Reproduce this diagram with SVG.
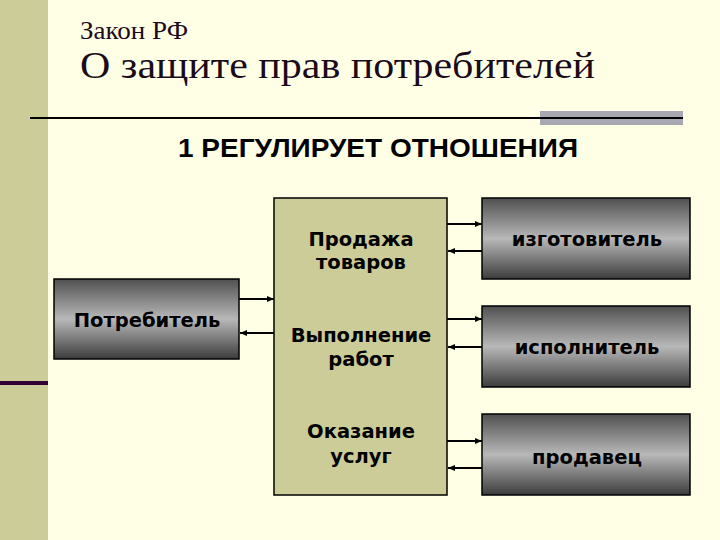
<svg xmlns="http://www.w3.org/2000/svg" width="720" height="540" viewBox="0 0 720 540">
<style>
.box{stroke:#000;stroke-width:1.5}
.g{fill:url(#grey)}
.c{fill:#cccc99}
.lbl{font-family:"DejaVu Sans",Verdana,sans-serif;font-weight:bold;font-size:19.5px;fill:#000;text-anchor:middle}
.ln{stroke:#000;stroke-width:2;fill:none;marker-end:url(#ah)}
.ttl{font-family:"Liberation Serif","Times New Roman",serif;fill:#1a0a1a}
</style>
<defs>
<linearGradient id="grey" x1="0" y1="0" x2="0" y2="1">
<stop offset="0" stop-color="#505050"/>
<stop offset="0.5" stop-color="#b8b8b8"/>
<stop offset="1" stop-color="#3c3c3c"/>
</linearGradient>
<marker id="ah" markerWidth="8" markerHeight="8" refX="7" refY="4" orient="auto" markerUnits="userSpaceOnUse">
<path d="M0,1 L7,4 L0,7 z" fill="#000"/>
</marker>
</defs>
<rect x="0" y="0" width="720" height="540" fill="#ffffe6"/>
<rect x="0" y="0" width="48" height="540" fill="#cccc99"/>
<rect x="0" y="381" width="48" height="4" fill="#330033"/>
<rect x="540" y="111" width="143" height="14" fill="#a8a8b2"/>
<line x1="30" y1="118" x2="683" y2="118" stroke="#000" stroke-width="2"/>
<text class="ttl" x="80" y="39" font-size="25" textLength="108" lengthAdjust="spacingAndGlyphs">Закон РФ</text>
<text class="ttl" x="80" y="78" font-size="38" textLength="515" lengthAdjust="spacingAndGlyphs">О защите прав потребителей</text>
<text x="378" y="157" font-family="'Liberation Sans',Arial,sans-serif" font-weight="bold" font-size="25" text-anchor="middle" textLength="400" lengthAdjust="spacingAndGlyphs">1 РЕГУЛИРУЕТ ОТНОШЕНИЯ</text>
<g id="center">
<rect class="box c" x="274" y="198" width="173" height="297"/>
<text class="lbl" x="361" y="246">Продажа</text>
<text class="lbl" x="361" y="269">товаров</text>
<text class="lbl" x="361" y="342">Выполнение</text>
<text class="lbl" x="361" y="366">работ</text>
<text class="lbl" x="361" y="438">Оказание</text>
<text class="lbl" x="361" y="463">услуг</text>
</g>
<g id="consumer">
<rect class="box g" x="54" y="279" width="185" height="80"/>
<text class="lbl" x="147" y="327">Потребитель</text>
</g>
<g id="maker">
<rect class="box g" x="482" y="198" width="208" height="81"/>
<text class="lbl" x="587" y="246">изготовитель</text>
</g>
<g id="executor">
<rect class="box g" x="482" y="306" width="208" height="81"/>
<text class="lbl" x="587" y="354">исполнитель</text>
</g>
<g id="seller">
<rect class="box g" x="482" y="414" width="208" height="81"/>
<text class="lbl" x="587" y="464">продавец</text>
</g>
<g id="connectors">
<line class="ln" x1="239" y1="299" x2="274" y2="299"/>
<line class="ln" x1="274" y1="333" x2="240" y2="333"/>
<line class="ln" x1="447" y1="224" x2="482" y2="224"/>
<line class="ln" x1="482" y1="251" x2="448" y2="251"/>
<line class="ln" x1="447" y1="319" x2="482" y2="319"/>
<line class="ln" x1="482" y1="347" x2="448" y2="347"/>
<line class="ln" x1="447" y1="441" x2="482" y2="441"/>
<line class="ln" x1="482" y1="468" x2="448" y2="468"/>
</g>
</svg>
